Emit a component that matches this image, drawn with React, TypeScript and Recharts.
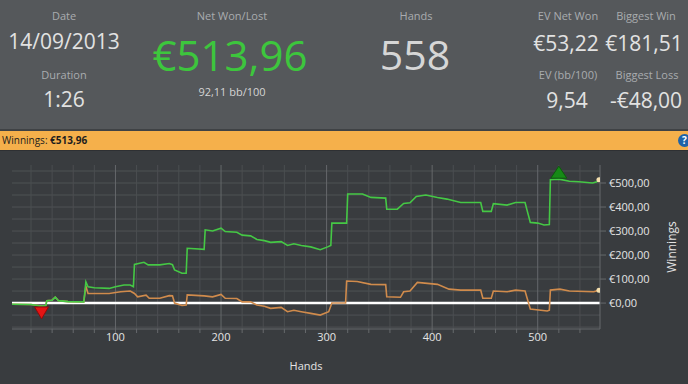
import { LineChart, Line, XAxis, YAxis, ReferenceLine } from 'recharts';

// cumulative net won (green) and all-in EV (orange)
const NET_HANDS = [2, 20, 28, 30, 34, 35, 40, 43, 46, 55, 70, 72, 74, 80, 94, 100, 108, 114, 117, 118, 127, 131, 142, 151, 154, 156, 163, 167, 168, 184, 185, 192, 200, 204, 215, 220, 228, 234, 241, 247, 257, 263, 269, 276, 285, 294, 301, 304, 305, 319, 320, 334, 342, 356, 357, 367, 373, 379, 385, 394, 405, 414, 427, 446, 448, 456, 458, 471, 479, 488, 490, 493, 500, 506, 511, 512, 520, 530, 539, 552, 556, 558];
const NET_VALUES = [-5, -6, -11, -12, -10, 10, 12, 25, 10, 6, 5, 88, 68, 64, 61, 68, 75, 75, 68, 161, 170, 159, 159, 165, 160, 138, 124, 124, 228, 224, 305, 300, 312, 298, 295, 283, 280, 265, 260, 253, 256, 240, 247, 240, 234, 222, 234, 240, 333, 333, 454, 454, 440, 437, 391, 391, 415, 418, 444, 450, 440, 433, 419, 419, 382, 382, 414, 408, 419, 419, 385, 336, 333, 325, 327, 514, 516, 507, 505, 500, 505, 513.96];

const EV_HANDS = [2, 20, 28, 34, 35, 40, 43, 46, 55, 70, 72, 74, 94, 105, 114, 118, 121, 129, 132, 142, 151, 154, 156, 163, 167, 168, 184, 192, 200, 204, 215, 220, 228, 234, 241, 247, 257, 263, 269, 276, 285, 294, 302, 305, 318, 319, 329, 342, 356, 357, 370, 373, 379, 386, 405, 416, 427, 446, 448, 456, 458, 471, 479, 488, 490, 493, 509, 511, 512, 521, 530, 553, 558];
const EV_VALUES = [-5, -6, -11, -10, 10, 12, 25, 10, 6, 5, 70, 40, 40, 47, 50, 40, 26, 33, 20, 20, 31, 30, 0, -10, -8, 34, 30, 26, 36, 20, 19, 5, 5, -8, -13, -22, -18, -36, -30, -36, -43, -50, -36, 0, 0, 92, 90, 78, 77, 26, 24, 47, 50, 86, 78, 58, 54, 54, 20, 20, 50, 47, 54, 50, 20, -25, -33, -30, 54, 58, 50, 47, 53.22];

const BIG_LOSS_HAND = 30;
const BIG_WIN_HAND = 520;

const X_TICKS = [20, 40, 60, 80, 100, 120, 140, 160, 180, 200, 220, 240, 260, 280, 300, 320, 340, 360, 380, 400, 420, 440, 460, 480, 500, 520, 540];
const X_MAJOR = [100, 200, 300, 400, 500];
const Y_TICKS = [0, 100, 200, 300, 400, 500];
const Y_GRID = [-100, -50, 50, 100, 150, 200, 250, 300, 350, 400, 450, 500, 550];

const allHands = Array.from(new Set([...NET_HANDS, ...EV_HANDS])).sort((a, b) => a - b);
const data = allHands.map((hand) => {
  const ni = NET_HANDS.indexOf(hand);
  const ei = EV_HANDS.indexOf(hand);
  return { hand, net: ni >= 0 ? NET_VALUES[ni] : null, ev: ei >= 0 ? EV_VALUES[ei] : null };
});
const LAST_HAND = NET_HANDS[NET_HANDS.length - 1];

const FONT = '"Open Sans", "Noto Sans", sans-serif';
const LABEL = '#a9acaf';
const VALUE = '#e2e2e2';
const GREEN = '#45c845';
const ORANGE = '#d08b4c';

const Stat = ({ x, y, size, color, children }: any) => (
  <div style={{
    position: 'absolute', left: x, top: y, transform: 'translate(-50%, -50%)',
    fontSize: size, color, lineHeight: 1, whiteSpace: 'nowrap', fontFamily: FONT,
  }}>{children}</div>
);

const netDot = (props: any) => {
  const { cx, cy, payload, key } = props;
  if (payload.net == null || cx == null || cy == null) return <g key={key} />;
  if (payload.hand === BIG_LOSS_HAND) {
    return <polygon key={key} points={`${cx - 7},${cy + 1} ${cx + 7},${cy + 1} ${cx},${cy + 13}`} fill="#e41414" stroke="#8e0b0b" strokeWidth={1} />;
  }
  if (payload.hand === BIG_WIN_HAND) {
    return <polygon key={key} points={`${cx - 8},${cy - 1} ${cx + 8},${cy - 1} ${cx},${cy - 13}`} fill="#168a16" stroke="#0c5c0c" strokeWidth={1} />;
  }
  if (payload.hand === LAST_HAND) {
    return <circle key={key} cx={cx} cy={cy} r={2.5} fill="#f4dfae" />;
  }
  return <g key={key} />;
};

const evDot = (props: any) => {
  const { cx, cy, payload, key } = props;
  if (payload.ev != null && payload.hand === LAST_HAND && cx != null) {
    return <circle key={key} cx={cx} cy={cy} r={2.5} fill="#f4dfae" />;
  }
  return <g key={key} />;
};

export default function App() {
  return (
    <div style={{ position: 'relative', width: 688, height: 384, overflow: 'hidden', background: '#393c3f', fontFamily: FONT }}>
      <style>{'body{margin:0}'}</style>

      {/* header stats */}
      <div style={{ position: 'absolute', left: 0, top: 0, width: 688, height: 129, background: '#55585b' }} />
      <Stat x={64} y={15} size={11} color={LABEL}>Date</Stat>
      <Stat x={64} y={41} size={21} color={VALUE}>14/09/2013</Stat>
      <Stat x={64} y={74} size={11} color={LABEL}>Duration</Stat>
      <Stat x={64} y={99} size={21} color={VALUE}>1:26</Stat>
      <Stat x={232} y={15} size={11} color={LABEL}>Net Won/Lost</Stat>
      <Stat x={230} y={55} size={42} color="#3dc63d">€513,96</Stat>
      <Stat x={232} y={91} size={11} color="#d4d4d4">92,11 bb/100</Stat>
      <Stat x={416} y={15} size={11} color={LABEL}>Hands</Stat>
      <Stat x={415} y={54} size={41} color="#d6d6d6">558</Stat>
      <Stat x={568} y={15} size={11} color={LABEL}>EV Net Won</Stat>
      <Stat x={566} y={43} size={21} color={VALUE}>€53,22</Stat>
      <Stat x={646} y={15} size={11} color={LABEL}>Biggest Win</Stat>
      <Stat x={644} y={43} size={21} color={VALUE}>€181,51</Stat>
      <Stat x={568} y={74} size={11} color={LABEL}>EV (bb/100)</Stat>
      <Stat x={567} y={100} size={21} color={VALUE}>9,54</Stat>
      <Stat x={647} y={74} size={11} color={LABEL}>Biggest Loss</Stat>
      <Stat x={646} y={100} size={21} color={VALUE}>-€48,00</Stat>

      {/* orange title bar */}
      <div style={{ position: 'absolute', left: 0, top: 129, width: 688, height: 2, background: '#3f4245' }} />
      <div style={{ position: 'absolute', left: 0, top: 131, width: 688, height: 19, background: '#f5b04b', borderBottom: '1px solid #2e3033' }}>
        <span style={{ position: 'absolute', left: 2, top: 4, fontSize: 10, color: '#1d1d1d', lineHeight: 1 }}>
          Winnings: <b>€513,96</b>
        </span>
        <div style={{ position: 'absolute', left: 678, top: 3, width: 13, height: 13, borderRadius: 7, background: '#1f63a8', color: '#fff', fontSize: 10, fontWeight: 700, lineHeight: '13px', textAlign: 'center' }}>?</div>
      </div>

      {/* chart */}
      <div style={{ position: 'absolute', left: 0, top: 150 }}>
        <LineChart width={688} height={234} data={data} margin={{ top: 15, right: 0, bottom: 0, left: 12 }}>
          <XAxis
            dataKey="hand" type="number" domain={[2, 559]} allowDataOverflow ticks={X_TICKS}
            tickFormatter={(v: number) => (X_MAJOR.includes(v) ? String(v) : '')}
            height={55} tickSize={4} tickMargin={0}
            stroke="#66696c" tick={{ fill: '#e4e4e4', fontSize: 11, fontFamily: FONT }}
            label={{ value: 'Hands', position: 'insideBottom', offset: 14, fill: '#e4e4e4', fontSize: 11, fontFamily: FONT }}
          />
          <XAxis xAxisId="top" orientation="top" dataKey="hand" type="number" domain={[2, 559]} height={0} tick={false} tickLine={false} stroke="#5c5f62" />
          <YAxis
            orientation="right" type="number" domain={[-108, 575]} allowDataOverflow ticks={Y_TICKS}
            tickFormatter={(v: number) => `€${v},00`}
            width={88} tickSize={6} tickMargin={3}
            stroke="#66696c" tick={{ fill: '#e4e4e4', fontSize: 11, fontFamily: FONT }}
          />
          <YAxis yAxisId="left" orientation="left" type="number" domain={[-108, 575]} width={0} tick={false} tickLine={false} stroke="#5c5f62" />
          {Y_GRID.map((v) => (
            <ReferenceLine key={`h${v}`} y={v} stroke="#4f5255" strokeWidth={1} />
          ))}
          {X_TICKS.filter((v) => !X_MAJOR.includes(v)).map((v) => (
            <ReferenceLine key={`v${v}`} x={v} stroke="#4b4e51" strokeWidth={1} />
          ))}
          {X_MAJOR.map((v) => (
            <ReferenceLine key={`m${v}`} x={v} stroke="#65686b" strokeWidth={1} />
          ))}
          <ReferenceLine y={0} stroke="#ffffff" strokeWidth={2.5} />
          <Line dataKey="ev" type="linear" stroke={ORANGE} strokeWidth={1.6} connectNulls dot={evDot} activeDot={false} isAnimationActive={false} />
          <Line dataKey="net" type="linear" stroke={GREEN} strokeWidth={1.6} connectNulls dot={netDot} activeDot={false} isAnimationActive={false} />
        </LineChart>
      </div>

      <div style={{
        position: 'absolute', left: 672, top: 247, transform: 'translate(-50%, -50%) rotate(-90deg)',
        fontSize: 12, color: '#e4e4e4', lineHeight: 1, whiteSpace: 'nowrap',
      }}>Winnings</div>
    </div>
  );
}
